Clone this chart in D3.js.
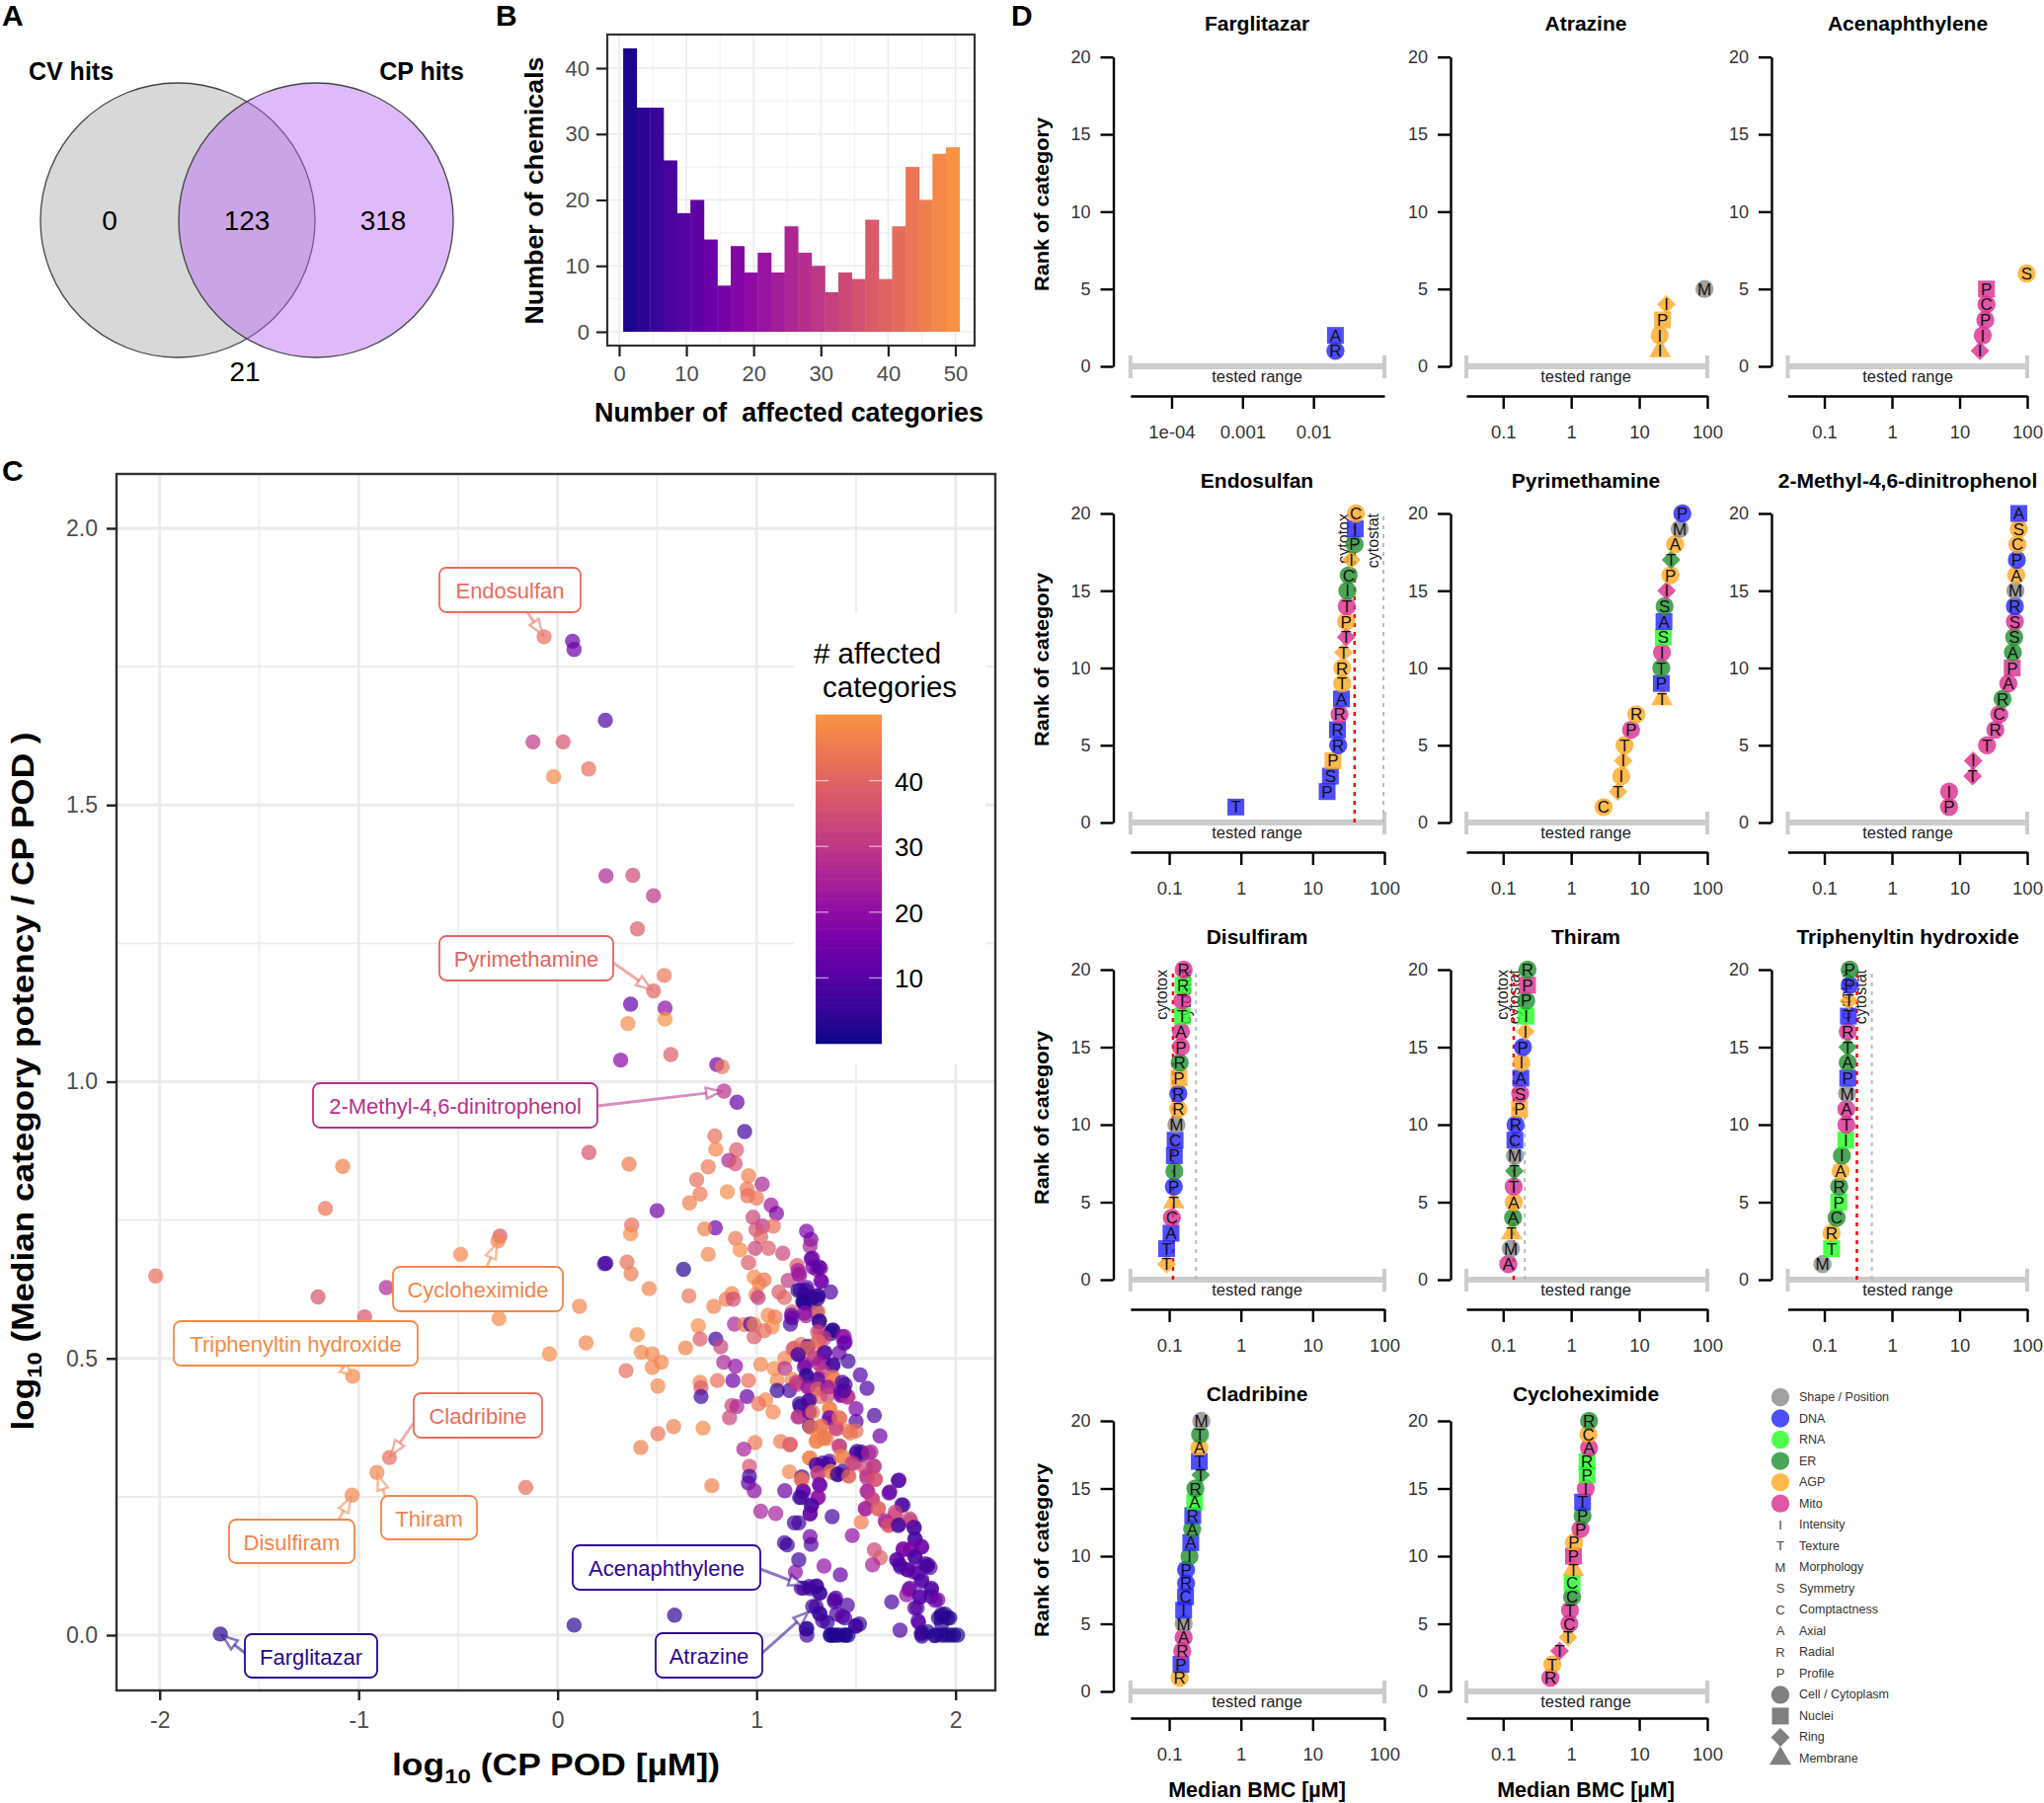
<!DOCTYPE html>
<html>
<head>
<meta charset="utf-8">
<script src="https://cdn.jsdelivr.net/npm/d3@7"></script>
<style>
body { margin: 0; background: #fff; }
text { font-family: "Liberation Sans", Arial, sans-serif; }
</style>
</head>
<body>
<div id="idMyCanvas"></div>
<script>
// panel A
let venn_counts = [0, 123, 318, 21];
let venn_labels = ["CV hits", "CP hits"];

// panel B
let hist_counts = [43, 34, 34, 26, 18, 20, 14, 7, 13, 9, 12, 9, 16, 12, 10, 6, 9, 8, 17, 8, 16, 25, 20, 27, 28];
let hist_ticks_x = [0, 10, 20, 30, 40, 50];
let hist_ticks_y = [0, 10, 20, 30, 40];

// panel C: log10 CP POD, log10 ratio, number of affected categories
let chem_points = [
  [-0.068,1.804,42],[0.075,1.796,12],[0.083,1.781,14],[0.24,1.653,8],[-0.124,1.614,30],[0.028,1.614,36],
  [0.156,1.565,42],[-0.02,1.551,48],[0.243,1.372,26],[0.378,1.373,34],[0.482,1.336,29],[0.401,1.276,38],
  [0.482,1.164,40],[0.536,1.192,44],[0.367,1.14,12],[0.54,1.133,20],[0.353,1.105,48],[0.54,1.113,49],
  [0.317,1.039,18],[0.569,1.049,38],[0.8,1.031,15],[0.827,1.027,44],[0.836,0.983,28],[0.157,0.872,36],
  [-1.08,0.847,46],[-1.167,0.771,43],[-0.29,0.721,37],[-0.3,0.712,47],[-0.487,0.688,47],[0.236,0.671,8],
  [-2.02,0.649,42],[-0.861,0.628,26],[-1.204,0.611,36],[0.11,0.594,47],[-0.97,0.575,36],[-0.295,0.572,48],
  [0.143,0.528,47],[-0.041,0.508,48],[-1.03,0.468,48],[-0.845,0.321,42],[-0.908,0.294,47],[-1.033,0.253,47],
  [-0.16,0.267,42],[-1.695,0.002,3],[0.083,0.018,4],
  [0.902,0.963,12],[0.94,0.91,6],[0.79,0.902,42],[0.795,0.878,47],[0.899,0.877,38],[0.86,0.858,26],
  [0.893,0.852,36],[0.359,0.851,45],[0.757,0.846,44],[0.96,0.83,46],[0.699,0.823,42],[1.028,0.815,25],
  [0.952,0.806,44],[0.955,0.794,42],[1.0,0.79,44],[0.716,0.797,44],[0.853,0.801,48],[0.663,0.781,46],
  [1.073,0.777,22],[1.1,0.762,16],[0.5,0.767,15],[0.982,0.755,33],[1.031,0.739,28],[1.084,0.739,42],
  [0.997,0.733,36],[0.793,0.736,14],[0.739,0.734,46],[0.372,0.741,42],[0.367,0.725,48],[1.251,0.73,16],
  [1.273,0.715,14],[1.269,0.703,24],[1.021,0.72,40],[0.894,0.717,44],[0.917,0.696,48],[0.993,0.699,33],
  [1.06,0.699,38],[1.132,0.69,33],[0.757,0.688,47],[1.281,0.681,14],[0.959,0.673,38],[0.349,0.674,42],
  [0.243,0.672,7],[0.369,0.653,45],[0.633,0.661,3],[1.203,0.668,38],[1.212,0.653,24],[1.302,0.661,20],
  [1.322,0.663,18],[0.988,0.647,48],[1.038,0.642,44],[1.013,0.635,46],[1.159,0.641,30],[1.327,0.639,16],
  [0.46,0.626,47],[1.372,0.62,8],[1.22,0.623,6],[1.253,0.628,14],[1.112,0.62,38],[1.14,0.61,40],
  [0.66,0.613,44],[0.876,0.617,47],[0.848,0.607,45],[0.883,0.607,34],[0.997,0.615,46],[1.008,0.61,30],
  [0.785,0.594,46],[1.236,0.602,4],[1.31,0.613,6],[1.269,0.599,6],[1.302,0.584,10],[1.248,0.577,22],
  [1.179,0.584,38],[1.058,0.578,48],[1.093,0.575,44],[1.31,0.585,46],[1.179,0.573,14],[1.17,0.562,6],
  [0.889,0.562,26],[0.939,0.561,46],[0.969,0.562,10],[0.988,0.561,46],[0.707,0.559,48],[1.079,0.557,48],
  [1.316,0.568,6],[1.038,0.55,42],[0.4,0.543,48],[0.988,0.539,38],[1.319,0.551,36],[1.385,0.551,5],
  [1.44,0.54,18],[1.446,0.53,14],[0.795,0.535,6],[0.716,0.535,38],[1.32,0.537,36],[0.643,0.519,46],
  [0.82,0.521,33],[0.421,0.511,47],[0.476,0.508,47],[0.521,0.493,47],[0.476,0.484,47],[0.344,0.478,42],
  [1.19,0.519,42],[1.253,0.52,40],[1.302,0.526,46],[1.344,0.511,8],[1.212,0.508,10],[1.286,0.5,38],
  [1.415,0.51,12],[1.46,0.495,6],[0.835,0.493,26],[0.894,0.486,20],[1.021,0.489,47],[1.142,0.5,47],
  [1.088,0.482,48],[1.142,0.482,28],[1.245,0.489,18],[1.336,0.493,24],[1.385,0.489,8],[1.521,0.47,10],
  [1.555,0.446,8],[0.881,0.46,14],[0.803,0.46,42],[0.959,0.46,42],[0.716,0.457,47],[0.504,0.45,47],
  [0.721,0.447,38],[0.721,0.431,6],[1.104,0.46,47],[1.179,0.462,47],[1.253,0.468,8],[1.319,0.465,30],
  [1.385,0.464,47],[1.104,0.442,4],[1.165,0.442,6],[1.203,0.453,28],[1.261,0.449,24],[1.319,0.449,38],
  [1.369,0.449,36],[1.445,0.453,6],[1.426,0.435,16],[1.46,0.431,28],[0.952,0.431,12],[1.046,0.425,47],
  [1.01,0.418,44],[1.083,0.403,47],[0.876,0.415,33],[0.901,0.413,26],[0.864,0.393,33],[1.22,0.413,4],
  [1.261,0.424,10],[1.261,0.402,18],[1.212,0.395,30],[1.319,0.431,42],[1.369,0.408,46],[1.5,0.409,16],
  [1.5,0.386,10],[1.592,0.397,8],[1.62,0.36,14],[1.369,0.391,10],[1.419,0.391,44],[1.402,0.373,33],
  [1.269,0.377,47],[1.324,0.377,46],[1.461,0.369,44],[1.5,0.369,42],[1.302,0.351,47],[1.352,0.355,46],
  [0.583,0.377,46],[0.504,0.364,44],[0.731,0.374,48],[0.418,0.339,46],[0.992,0.348,45],[1.121,0.35,45],
  [1.17,0.345,36],[0.936,0.336,24],[1.418,0.342,35],[1.575,0.331,25],[1.526,0.331,6],[1.5,0.328,10],
  [1.269,0.32,46],[1.435,0.322,46],[1.302,0.307,8],[1.36,0.309,10],[1.493,0.311,38],[1.592,0.305,28],
  [0.964,0.305,36],[0.964,0.287,6],[0.959,0.275,10],[0.988,0.261,20],[1.165,0.295,47],[1.228,0.286,8],
  [1.228,0.28,44],[1.31,0.291,30],[1.377,0.294,47],[1.41,0.291,4],[1.46,0.289,44],[1.553,0.289,36],
  [1.597,0.282,36],[1.716,0.28,12],[1.67,0.259,14],[1.559,0.26,28],[0.775,0.27,46],[1.142,0.261,14],
  [1.319,0.271,12],[1.236,0.26,14],[1.225,0.249,6],[1.311,0.249,20],[1.583,0.245,30],[1.613,0.229,40],
  [1.547,0.229,24],[1.736,0.235,8],[1.278,0.235,10],[1.269,0.22,10],[1.021,0.224,24],[1.096,0.22,24],
  [1.38,0.214,6],[1.19,0.203,8],[1.212,0.203,6],[1.526,0.204,45],[1.65,0.204,30],[1.666,0.2,40],
  [1.7,0.218,36],[1.774,0.207,32],[1.716,0.2,8],[1.793,0.194,8],[1.481,0.18,20],[1.798,0.173,8],
  [1.831,0.16,14],[1.269,0.178,14],[1.274,0.164,10],[1.14,0.167,7],[1.154,0.163,5],[1.592,0.154,33],
  [1.622,0.14,38],[1.583,0.127,24],[1.736,0.154,20],[1.774,0.154,18],[1.707,0.136,18],[1.798,0.14,10],
  [1.847,0.129,10],[1.872,0.122,10],[1.212,0.136,5],[1.195,0.114,20],[1.339,0.125,20],[1.421,0.109,12],
  [1.724,0.123,8],[1.757,0.118,12],[1.79,0.114,14],[1.831,0.1,12],[1.88,0.082,12],[1.765,0.082,18],
  [1.822,0.068,10],[1.897,0.063,15],[1.807,0.049,10],[1.679,0.06,8],[1.815,0.023,8],[1.721,0.009,8],
  [1.831,0.005,5],[1.831,-0.002,5],[1.914,0.031,3],[1.93,0.038,3],[1.947,0.038,3],[1.971,0.031,3],
  [1.93,0.02,3],[1.9,0.0,2],[1.93,0.0,2],[1.95,0.0,2],[1.97,0.0,2],[1.99,0.0,2],[2.01,0.0,2],
  [0.588,0.036,4],[1.236,0.085,5],[1.302,0.089,5],[1.319,0.076,5],[1.269,0.084,5],[1.299,0.052,6],
  [1.319,0.038,5],[1.355,0.023,4],[1.398,0.067,8],[1.393,0.06,8],[1.456,0.054,8],[1.402,0.038,8],
  [1.443,0.031,8],[1.5,0.016,5],[1.517,0.02,5],[1.253,0.012,4],[1.253,0.0,6],[1.37,0.0,2],[1.385,0.0,2],
  [1.4,0.0,2],[1.44,0.0,2],[1.46,0.0,2],[1.24,0.615,3],[1.28,0.61,4],[1.381,0.551,3],
  // second pass over the dense part
  [1.274,0.68,12],[1.282,0.665,14],[1.315,0.665,10],[1.208,0.659,24],[1.216,0.65,22],[1.323,0.64,14],
  [1.208,0.623,5],[1.249,0.623,5],[1.307,0.614,6],[1.232,0.603,3],[1.24,0.6,3],[1.307,0.608,4],
  [1.241,0.582,20],[1.175,0.578,12],[1.315,0.566,4],[1.307,0.548,33],[1.373,0.545,3],[1.431,0.539,20],
  [1.44,0.527,12],[1.34,0.537,30],[1.224,0.525,42],[1.257,0.522,8],[1.307,0.531,42],[1.183,0.517,38],
  [1.25,0.518,42],[1.208,0.507,6],[1.29,0.501,30],[1.34,0.51,10],[1.24,0.484,14],[1.314,0.491,22],
  [1.382,0.487,6],[1.332,0.477,30],[1.249,0.469,3],[1.307,0.462,8],[1.382,0.466,44],[1.431,0.457,6],
  [1.2,0.457,30],[1.257,0.448,22],[1.307,0.445,40],[1.357,0.448,20],[1.357,0.433,33],[1.423,0.439,8],
  [1.423,0.433,18],[1.456,0.43,28],[1.44,0.442,8],[1.216,0.418,4],[1.208,0.394,28],[1.266,0.424,8],
  [1.266,0.403,14],[1.282,0.403,44],[1.365,0.41,47],[1.365,0.393,14],[1.266,0.378,6],[1.27,0.376,44],
  [1.324,0.378,44],[1.398,0.374,33],[1.307,0.358,47],[1.34,0.358,44],[1.415,0.393,42],
  [1.166,0.344,40],[1.299,0.35,47],[1.34,0.356,46],[1.414,0.341,30],[1.472,0.365,44],[1.265,0.32,47],
  [1.299,0.308,6],[1.332,0.311,8],[1.365,0.314,6],[1.423,0.323,47],[1.505,0.332,6],[1.53,0.326,6],
  [1.563,0.329,25],[1.373,0.296,47],[1.406,0.29,4],[1.431,0.296,6],[1.464,0.287,40],[1.481,0.311,30],
  [1.547,0.302,33],[1.588,0.305,30],[1.555,0.284,28],[1.596,0.281,36],[1.307,0.293,33],[1.224,0.281,42],
  [1.232,0.26,12],[1.216,0.249,6],[1.315,0.272,14],[1.307,0.249,20],[1.274,0.234,6],[1.269,0.219,12],
  [1.712,0.279,8],[1.666,0.257,12],[1.555,0.26,24],[1.58,0.246,33],[1.547,0.228,24],[1.61,0.228,40],
  [1.729,0.235,8],[1.696,0.222,33],[1.77,0.21,33],[1.646,0.207,24],[1.663,0.198,36],[1.712,0.198,6],
  [1.79,0.195,8],[1.795,0.174,8],[1.737,0.156,14],[1.778,0.156,18],[1.828,0.159,14],[1.704,0.136,10],
  [1.795,0.142,8],[1.72,0.127,8],[1.762,0.118,10],[1.853,0.124,5],[1.811,0.112,10],[1.861,0.127,8],
  [1.828,0.097,8],[1.77,0.085,12],[1.754,0.073,20],[1.878,0.085,8],[1.82,0.07,10],[1.878,0.07,8],
  [1.911,0.064,14],[1.795,0.049,10],[1.811,0.026,10],[1.927,0.034,3],[1.96,0.031,3],[1.828,0.002,5],
  [1.86,0.006,3],[1.894,-0.001,3],[1.332,0.026,6],[1.315,0.04,6],[1.282,0.052,5],[1.39,0.064,10],
  [1.431,0.034,10],[1.497,0.017,6],[1.249,0.011,4],[1.373,0.0,2],[1.447,0.0,2],[1.414,0.0,2],
  [1.299,0.088,6],[1.265,0.088,6],[1.224,0.085,8],[1.315,0.076,5]
];
let label_names = ["Endosulfan", "Pyrimethamine", "2-Methyl-4,6-dinitrophenol", "Cycloheximide", "Triphenyltin hydroxide", "Cladribine", "Thiram", "Disulfiram", "Farglitazar", "Acenaphthylene", "Atrazine"];
let label_pod = [-0.068, 0.482, 0.836, -0.3, -1.03, -0.845, -0.908, -1.033, -1.695, 1.25, 1.27];
let label_ratio = [1.804, 1.164, 0.983, 0.712, 0.468, 0.321, 0.294, 0.253, 0.002, 0.088, 0.045];
let label_n = [42, 40, 28, 47, 48, 42, 47, 47, 3, 4, 4];
let scatter_ticks_x = [-2, -1, 0, 1, 2];
let scatter_ticks_y = [0, 0.5, 1, 1.5, 2];
let legend_ticks = [10, 20, 30, 40];

// panel D: median BMC, feature letter, compartment, region. rank is the row number
let rank_farglitazar = [[0.0204,"R","DNA","c"],[0.0204,"A","DNA","n"]];
let rank_atrazine = [[20.2,"I","AGP","m"],[20,"I","AGP","c"],[22,"P","AGP","n"],[25,"I","AGP","r"],[91,"M","Shape","c"]];
let rank_acenaphthylene = [[20,"I","Mito","r"],[22,"I","Mito","c"],[24,"P","Mito","c"],[25,"C","Mito","c"],[25,"P","Mito","n"],[98,"S","AGP","c"]];
let rank_endosulfan = [[0.85,"T","DNA","n"],[15.9,"P","DNA","n"],[17.7,"S","DNA","n"],[19.2,"P","AGP","n"],[22.7,"R","DNA","c"],[22.2,"R","DNA","n"],[23.7,"R","Mito","c"],[25.2,"A","DNA","n"],[25.8,"T","AGP","c"],[25.8,"R","AGP","c"],[26.9,"T","AGP","r"],[29.3,"T","Mito","r"],[29.3,"P","AGP","c"],[29.9,"T","Mito","c"],[30.5,"I","ER","c"],[31.8,"C","ER","c"],[34.6,"I","AGP","r"],[38.4,"P","ER","c"],[39.2,"I","DNA","n"],[40.1,"C","AGP","c"]];
let rank_pyrimethamine = [[2.99,"C","AGP","c"],[4.87,"T","AGP","r"],[5.45,"I","AGP","c"],[5.82,"I","AGP","r"],[6.08,"T","AGP","c"],[7.59,"P","Mito","c"],[9.07,"R","AGP","c"],[21.6,"T","AGP","m"],[21.1,"P","DNA","n"],[21.1,"T","ER","c"],[21.6,"I","Mito","c"],[22.6,"S","RNA","n"],[23.1,"A","DNA","n"],[23.6,"S","ER","c"],[25.2,"I","Mito","r"],[28.8,"P","AGP","c"],[29.4,"T","ER","r"],[33.7,"A","AGP","c"],[39.3,"M","Shape","c"],[43,"P","DNA","c"]];
let rank_methyl = [[7,"P","Mito","c"],[7,"I","Mito","c"],[15.6,"T","Mito","r"],[15.9,"I","Mito","r"],[25.4,"T","Mito","c"],[33.8,"R","Mito","c"],[38.6,"C","Mito","c"],[43.2,"R","ER","c"],[52.6,"A","Mito","c"],[60,"P","Mito","n"],[61.4,"A","ER","c"],[64.2,"S","ER","c"],[65.7,"S","Mito","c"],[65.7,"R","DNA","c"],[67,"M","Shape","c"],[68.7,"A","AGP","c"],[70.2,"P","DNA","c"],[71.8,"C","AGP","c"],[75,"S","AGP","c"],[75,"A","DNA","n"]];
let rank_disulfiram = [[0.092,"T","AGP","r"],[0.092,"T","DNA","n"],[0.106,"A","DNA","n"],[0.109,"C","Mito","c"],[0.116,"T","AGP","m"],[0.116,"P","DNA","c"],[0.118,"I","ER","c"],[0.118,"P","DNA","n"],[0.121,"C","DNA","n"],[0.126,"M","Shape","c"],[0.134,"R","AGP","c"],[0.134,"R","DNA","c"],[0.137,"P","AGP","n"],[0.14,"R","ER","c"],[0.146,"P","Mito","c"],[0.146,"A","Mito","c"],[0.152,"T","RNA","n"],[0.152,"T","Mito","c"],[0.156,"R","RNA","n"],[0.159,"R","Mito","c"]];
let rank_thiram = [[0.119,"A","Mito","c"],[0.13,"M","Shape","c"],[0.133,"T","AGP","m"],[0.14,"A","ER","c"],[0.143,"A","AGP","c"],[0.143,"T","Mito","c"],[0.146,"T","ER","r"],[0.149,"M","Shape","c"],[0.149,"C","DNA","n"],[0.152,"R","DNA","c"],[0.174,"P","AGP","n"],[0.178,"S","Mito","c"],[0.182,"A","DNA","n"],[0.186,"I","AGP","c"],[0.195,"P","DNA","c"],[0.213,"I","AGP","r"],[0.218,"I","RNA","n"],[0.218,"P","ER","c"],[0.228,"P","Mito","n"],[0.228,"R","ER","c"]];
let rank_triphenyltin = [[0.094,"M","Shape","c"],[0.128,"T","RNA","n"],[0.128,"R","AGP","c"],[0.152,"C","ER","c"],[0.163,"P","RNA","n"],[0.166,"R","ER","c"],[0.174,"A","AGP","c"],[0.182,"I","ER","c"],[0.208,"I","RNA","n"],[0.212,"T","Mito","c"],[0.212,"A","Mito","c"],[0.217,"M","Shape","c"],[0.222,"P","DNA","n"],[0.222,"A","ER","c"],[0.222,"T","ER","r"],[0.222,"R","Mito","c"],[0.227,"T","DNA","n"],[0.232,"T","AGP","r"],[0.237,"P","DNA","c"],[0.237,"P","ER","c"]];
let rank_cladribine = [[0.14,"R","AGP","c"],[0.146,"P","DNA","n"],[0.152,"R","Mito","c"],[0.159,"A","Mito","c"],[0.159,"M","Shape","c"],[0.159,"I","DNA","n"],[0.169,"C","DNA","n"],[0.172,"R","DNA","c"],[0.172,"P","DNA","c"],[0.192,"I","ER","c"],[0.2,"A","DNA","n"],[0.209,"A","ER","c"],[0.213,"R","DNA","n"],[0.227,"A","RNA","n"],[0.232,"R","ER","c"],[0.275,"T","ER","r"],[0.263,"T","DNA","n"],[0.263,"A","AGP","c"],[0.269,"T","ER","c"],[0.28,"M","Shape","c"]];
let rank_cycloheximide = [[0.494,"R","Mito","c"],[0.528,"T","AGP","c"],[0.675,"T","Mito","r"],[0.9,"T","AGP","r"],[0.94,"C","Mito","c"],[0.96,"T","Mito","c"],[1.03,"C","ER","c"],[1.03,"C","RNA","n"],[1.08,"T","AGP","m"],[1.08,"P","Mito","n"],[1.1,"P","AGP","c"],[1.37,"P","Mito","c"],[1.47,"P","ER","c"],[1.47,"T","DNA","n"],[1.64,"I","Mito","c"],[1.71,"P","RNA","n"],[1.71,"R","RNA","n"],[1.83,"A","Mito","c"],[1.79,"C","AGP","c"],[1.83,"R","ER","c"]];

let panel_titles = ["Farglitazar", "Atrazine", "Acenaphthylene", "Endosulfan", "Pyrimethamine", "2-Methyl-4,6-dinitrophenol", "Disulfiram", "Thiram", "Triphenyltin hydroxide", "Cladribine", "Cycloheximide"];
let panel_ranks = [rank_farglitazar, rank_atrazine, rank_acenaphthylene, rank_endosulfan, rank_pyrimethamine, rank_methyl, rank_disulfiram, rank_thiram, rank_triphenyltin, rank_cladribine, rank_cycloheximide];
let panel_cytotox = [null, null, null, 38.4, null, null, 0.113, 0.143, 0.303, null, null];
let panel_cytostat = [null, null, null, 97, null, null, 0.237, 0.208, 0.504, null, null];
let rank_ticks = [0, 5, 10, 15, 20];
let bmc_ticks = [0.1, 1, 10, 100];
let bmc_ticks_low = [0.0001, 0.001, 0.01];

let compartment_names = ["Shape", "DNA", "RNA", "ER", "AGP", "Mito"];
let compartment_colors = ["#8a8a8a", "#2222ff", "#22ff22", "#1f9030", "#ffa820", "#d92c8e"];
let legend_compartments = ["Shape / Position", "DNA", "RNA", "ER", "AGP", "Mito"];
let legend_letters = ["I", "T", "M", "S", "C", "A", "R", "P"];
let legend_features = ["Intensity", "Texture", "Morphology", "Symmetry", "Comptactness", "Axial", "Radial", "Profile"];
let legend_regions = ["Cell / Cytoplasm", "Nuclei", "Ring", "Membrane"];
let region_codes = ["c", "n", "r", "m"];

// layout
let canvas_w = 2070;
let canvas_h = 1826;
let font_sans = "'Liberation Sans', Arial, sans-serif";
let tick_grey = "#4d4d4d";

let svg_obj = d3.select("#idMyCanvas")
                .append("svg")
                  .attr("width", canvas_w)
                  .attr("height", canvas_h)
                  .attr("viewBox", [0, 0, canvas_w, canvas_h].join(" "))
                  .attr("xmlns", "http://www.w3.org/2000/svg");

svg_obj.append("rect").attr("width", canvas_w).attr("height", canvas_h).attr("fill", "white");

// plasma, cut off at orange as in the original colourbar
let color_n = d3.scaleSequential(t => d3.interpolatePlasma(t * 0.75)).domain([0, 50]);

function add_text(parent, x, y, str, size, opts) {
  opts = opts || {};
  let t = parent.append("text")
    .attr("x", x).attr("y", y)
    .attr("font-size", size + "px")
    .attr("text-anchor", opts.anchor || "middle")
    .attr("dominant-baseline", opts.baseline || "central")
    .attr("fill", opts.fill || "black")
    .attr("font-weight", opts.bold ? "bold" : "normal")
    .text(str);
  if (opts.length) t.attr("textLength", opts.length).attr("lengthAdjust", "spacingAndGlyphs");
  if (opts.rotate) t.attr("transform", "rotate(-90 " + x + " " + y + ")");
  return t;
}

// panel letters
[["A", 2, 26], ["B", 502, 26], ["C", 2, 487], ["D", 1024, 26]].forEach(d => {
  add_text(svg_obj, d[1], d[2], d[0], 30, {anchor: "start", baseline: "auto", bold: true});
});

// ---- A: venn
let g_venn = svg_obj.append("g");
let venn_r = 139;
g_venn.append("circle").attr("cx", 180).attr("cy", 223).attr("r", venn_r)
  .attr("fill", "#d8d8d8").attr("stroke", "#444").attr("stroke-width", 1.3);
g_venn.append("circle").attr("cx", 320).attr("cy", 223).attr("r", venn_r)
  .attr("fill", "rgb(185,105,245)").attr("fill-opacity", 0.46).attr("stroke", "#444").attr("stroke-width", 1.3);
add_text(g_venn, 72, 72, venn_labels[0], 25, {bold: true});
add_text(g_venn, 427, 72, venn_labels[1], 25, {bold: true});
add_text(g_venn, 111, 223, venn_counts[0], 28);
add_text(g_venn, 250, 223, venn_counts[1], 28);
add_text(g_venn, 388, 223, venn_counts[2], 28);
add_text(g_venn, 248, 376, venn_counts[3], 28);

// ---- B: histogram
let g_hist = svg_obj.append("g");
let xb = d3.scaleLinear().domain([0, 50]).range([627, 967.5]);
let yb = d3.scaleLinear().domain([0, 40]).range([336, 69]);
let bin_w = 2;
let bin_x0 = 0.6;

function grid_lines(g, xs, ys, x_range, y_range, width) {
  g.selectAll(null).data(xs).enter().append("line")
    .attr("x1", d => d.px).attr("x2", d => d.px).attr("y1", y_range[0]).attr("y2", y_range[1])
    .attr("stroke", "#ebebeb").attr("stroke-width", width);
  g.selectAll(null).data(ys).enter().append("line")
    .attr("y1", d => d.px).attr("y2", d => d.px).attr("x1", x_range[0]).attr("x2", x_range[1])
    .attr("stroke", "#ebebeb").attr("stroke-width", width);
}
grid_lines(g_hist, d3.range(5, 50, 10).map(v => ({px: xb(v)})), d3.range(5, 45, 10).map(v => ({px: yb(v)})), [615, 987], [35, 350], 0.8);
grid_lines(g_hist, hist_ticks_x.map(v => ({px: xb(v)})), hist_ticks_y.map(v => ({px: yb(v)})), [615, 987], [35, 350], 1.5);

g_hist.selectAll("rect.bar").data(hist_counts).enter().append("rect")
  .attr("class", "bar")
  .attr("x", (d, i) => xb(bin_x0 + i * bin_w))
  .attr("y", d => yb(d))
  .attr("width", xb(bin_w) - xb(0) + 0.4)
  .attr("height", d => yb(0) - yb(d))
  .attr("fill", (d, i) => color_n(bin_x0 + i * bin_w + bin_w / 2));

g_hist.append("rect").attr("x", 615).attr("y", 35).attr("width", 372).attr("height", 315)
  .attr("fill", "none").attr("stroke", "#333").attr("stroke-width", 2.2);

function style_axis(g, size, color, line_w) {
  g.selectAll("text").attr("font-size", size + "px").attr("fill", color).attr("font-family", font_sans);
  g.selectAll("line").attr("stroke", "#222").attr("stroke-width", line_w);
  g.selectAll("path.domain").attr("stroke", "#222").attr("stroke-width", line_w);
}

let ax_b_x = g_hist.append("g").attr("transform", "translate(0,350)")
  .call(d3.axisBottom(xb).tickValues(hist_ticks_x).tickSize(11).tickSizeOuter(0).tickPadding(9));
ax_b_x.select("path.domain").remove();
style_axis(ax_b_x, 22, tick_grey, 2.2);
let ax_b_y = g_hist.append("g").attr("transform", "translate(615,0)")
  .call(d3.axisLeft(yb).tickValues(hist_ticks_y).tickSize(11).tickSizeOuter(0).tickPadding(7));
ax_b_y.select("path.domain").remove();
style_axis(ax_b_y, 22, tick_grey, 2.2);

add_text(g_hist, 799, 418, "Number of  affected categories", 27, {bold: true, length: 394}).style("white-space", "pre");
add_text(g_hist, 541, 193, "Number of chemicals", 26, {bold: true, length: 271, rotate: true});

// ---- C: scatter
let g_sc = svg_obj.append("g");
let box_c = {x0: 118, x1: 1008, y0: 480, y1: 1712};
let xc = d3.scaleLinear().domain([-2, 2]).range([161.7, 967.7]);
let yc = d3.scaleLinear().domain([0, 2]).range([1656, 535]);

grid_lines(g_sc, d3.range(-1.5, 2, 1).map(v => ({px: xc(v)})), d3.range(0.25, 2, 0.5).map(v => ({px: yc(v)})), [box_c.x0, box_c.x1], [box_c.y0, box_c.y1], 1.6);
grid_lines(g_sc, scatter_ticks_x.map(v => ({px: xc(v)})), scatter_ticks_y.map(v => ({px: yc(v)})), [box_c.x0, box_c.x1], [box_c.y0, box_c.y1], 2.8);

// colourbar sits on a white patch that cuts the grid
g_sc.append("rect").attr("x", 804).attr("y", 621).attr("width", 194).attr("height", 457).attr("fill", "white");

g_sc.selectAll("circle.pt").data(chem_points).enter().append("circle")
  .attr("class", "pt")
  .attr("cx", d => xc(d[0]))
  .attr("cy", d => yc(d[1]))
  .attr("r", 7.7)
  .attr("fill", d => color_n(d[2]))
  .attr("fill-opacity", 0.7);

g_sc.append("rect").attr("x", box_c.x0).attr("y", box_c.y0)
  .attr("width", box_c.x1 - box_c.x0).attr("height", box_c.y1 - box_c.y0)
  .attr("fill", "none").attr("stroke", "#333").attr("stroke-width", 2.4);

let ax_c_x = g_sc.append("g").attr("transform", "translate(0," + box_c.y1 + ")")
  .call(d3.axisBottom(xc).tickValues(scatter_ticks_x).tickFormat(d3.format("d")).tickSize(10).tickPadding(12));
ax_c_x.select("path.domain").remove();
style_axis(ax_c_x, 23, tick_grey, 2.4);
ax_c_x.selectAll("text").text(d => String(d));
let ax_c_y = g_sc.append("g").attr("transform", "translate(" + box_c.x0 + ",0)")
  .call(d3.axisLeft(yc).tickValues(scatter_ticks_y).tickFormat(d3.format(".1f")).tickSize(10).tickPadding(9));
ax_c_y.select("path.domain").remove();
style_axis(ax_c_y, 23, tick_grey, 2.4);

function log_title(parent, x, y, before, after, size, length, rotate) {
  let t = parent.append("text").attr("x", x).attr("y", y)
    .attr("text-anchor", "middle").attr("font-size", size + "px").attr("font-weight", "bold")
    .attr("textLength", length).attr("lengthAdjust", "spacingAndGlyphs");
  if (rotate) t.attr("transform", "rotate(-90 " + x + " " + y + ")");
  t.append("tspan").text("log");
  t.append("tspan").attr("dy", size * 0.25).attr("font-size", size * 0.68 + "px").text("10");
  t.append("tspan").attr("dy", -size * 0.25).text(before + after);
}
log_title(g_sc, 563, 1798, " (CP POD [µM])", "", 31, 332, false);
log_title(g_sc, 34, 1095, " (Median category potency / CP POD )", "", 31, 707, true);

// colourbar, one strip per category count
let yl = d3.scaleLinear().domain([0, 50]).range([1057, 724]);
let bar_x = 826;
let bar_w = 67;
let bar_steps = d3.range(0, 50, 0.5);
g_sc.selectAll("rect.strip").data(bar_steps).enter().append("rect")
  .attr("class", "strip")
  .attr("x", bar_x).attr("width", bar_w)
  .attr("y", d => yl(d + 0.5) - 0.3)
  .attr("height", d => yl(d) - yl(d + 0.5) + 0.6)
  .attr("fill", d => color_n(d));
legend_ticks.forEach(v => {
  g_sc.append("line").attr("x1", bar_x).attr("x2", bar_x + 13).attr("y1", yl(v)).attr("y2", yl(v)).attr("stroke", "white").attr("stroke-opacity", 0.6).attr("stroke-width", 1.3);
  g_sc.append("line").attr("x1", bar_x + bar_w - 13).attr("x2", bar_x + bar_w).attr("y1", yl(v)).attr("y2", yl(v)).attr("stroke", "white").attr("stroke-opacity", 0.6).attr("stroke-width", 1.3);
  add_text(g_sc, 906, yl(v) + 1, v, 26, {anchor: "start"});
});
add_text(g_sc, 824, 661, "# affected", 29.5, {anchor: "start"});
add_text(g_sc, 833, 695, "categories", 29.5, {anchor: "start"});

// callouts: box corners in page pixels, arrow starts on the box edge
let label_boxes = [
  [445, 575, 143, 45, 534, 620], [445, 948, 176, 45, 621, 975], [317, 1097, 288, 45, 605, 1120],
  [398, 1283, 172, 45, 493, 1283], [176, 1338, 247, 45, 345, 1383], [419, 1411, 130, 45, 419, 1441],
  [386, 1515, 97, 44, 390, 1515], [232, 1539, 127, 44, 343, 1539], [248, 1655, 134, 44, 248, 1674],
  [580, 1565, 190, 45, 770, 1589], [664, 1654, 108, 45, 772, 1674]
];
label_names.forEach((name, i) => {
  let c = d3.rgb(color_n(label_n[i])).formatHex();
  let b = label_boxes[i];
  let tx = xc(label_pod[i]);
  let ty = yc(label_ratio[i]);
  let sx = b[4];
  let sy = b[5];
  let ang = Math.atan2(ty - sy, tx - sx);
  let len = Math.hypot(tx - sx, ty - sy);
  let head = Math.min(15, len * 0.6);
  let tip = 3;
  let ex = sx + Math.cos(ang) * (len - tip);
  let ey = sy + Math.sin(ang) * (len - tip);
  let bx = ex - Math.cos(ang) * head;
  let by = ey - Math.sin(ang) * head;
  let nx = -Math.sin(ang) * 5.5;
  let ny = Math.cos(ang) * 5.5;
  g_sc.append("line").attr("x1", sx).attr("y1", sy).attr("x2", bx).attr("y2", by)
    .attr("stroke", c).attr("stroke-opacity", 0.55).attr("stroke-width", 3);
  g_sc.append("path")
    .attr("d", d3.line()([[ex, ey], [bx + nx, by + ny], [bx - nx, by - ny]]) + "Z")
    .attr("fill", "white").attr("fill-opacity", 0.6)
    .attr("stroke", c).attr("stroke-opacity", 0.55).attr("stroke-width", 2.5);
  g_sc.append("rect").attr("x", b[0]).attr("y", b[1]).attr("width", b[2]).attr("height", b[3])
    .attr("rx", 7).attr("fill", "white").attr("stroke", c).attr("stroke-width", 1.8);
  add_text(g_sc, b[0] + b[2] / 2, b[1] + b[3] / 2 + 1, name, 22, {fill: c});
});

// ---- D: rank panels
let col_x = [
  {axis: 1127.5, left: 1144.8, right: 1402, centre: 1273},
  {axis: 1469, left: 1485, right: 1729, centre: 1606},
  {axis: 1794, left: 1810.5, right: 2053, centre: 1932}
];
let row_y = [
  {top: 57.7, zero: 371, xaxis: 401, title: 23, ylab: 207},
  {top: 520, zero: 833, xaxis: 863, title: 486, ylab: 668},
  {top: 982, zero: 1296, xaxis: 1326, title: 948, ylab: 1132},
  {top: 1439, zero: 1713, xaxis: 1740, title: 1411, ylab: 1570}
];

function draw_marker(g, x, y, region, color, scale) {
  let k = scale || 1;
  let path;
  if (region == "c") path = d3.symbol().type(d3.symbolCircle).size(265 * k * k)();
  if (region == "n") path = d3.symbol().type(d3.symbolSquare).size(290 * k * k)();
  if (region == "r") path = d3.symbol().type(d3.symbolSquare).size(180 * k * k)();
  if (region == "m") path = d3.symbol().type(d3.symbolTriangle).size(210 * k * k)();
  return g.append("path")
    .attr("d", path)
    .attr("transform", "translate(" + x + "," + y + ")" + (region == "r" ? " rotate(45)" : ""))
    .attr("fill", color);
}

panel_titles.forEach((title, i) => {
  let col = col_x[i % 3];
  let row = row_y[Math.floor(i / 3)];
  let g = svg_obj.append("g");
  let log_min = i == 0 ? 0.0000263 : 0.0288;
  let log_max = i == 0 ? 0.1 : 100;
  let x = d3.scaleLog().domain([log_min, log_max]).range([col.left, col.right]);
  let y = d3.scaleLinear().domain([0, 20]).range([row.zero, row.top]);

  add_text(g, col.centre, row.title, title, 21, {bold: true});

  let ax_y = g.append("g").attr("transform", "translate(" + col.axis + ",0)")
    .call(d3.axisLeft(y).tickValues(rank_ticks).tickSize(13).tickSizeOuter(0).tickPadding(10));
  style_axis(ax_y, 18, "#333", 2.4);
  ax_y.selectAll("path.domain,line").attr("stroke", "black");

  let ticks = i == 0 ? bmc_ticks_low : bmc_ticks;
  let ax_x = g.append("g").attr("transform", "translate(0," + row.xaxis + ")")
    .call(d3.axisBottom(x).tickValues(ticks).tickFormat(d => d == 0.0001 ? "1e-04" : String(d)).tickSize(13).tickSizeOuter(0).tickPadding(17));
  style_axis(ax_x, 18.5, "#333", 2.4);
  ax_x.selectAll("path.domain,line").attr("stroke", "black");

  // tested range bar with end caps
  g.append("line").attr("x1", col.left).attr("x2", col.right).attr("y1", row.zero).attr("y2", row.zero)
    .attr("stroke", "#cccccc").attr("stroke-width", 6);
  [col.left, col.right].forEach(cx => {
    g.append("line").attr("x1", cx).attr("x2", cx).attr("y1", row.zero - 11).attr("y2", row.zero + 12)
      .attr("stroke", "#cccccc").attr("stroke-width", 4);
  });
  add_text(g, col.centre, row.zero + 10, "tested range", 16.5, {fill: "#222"});

  if (panel_cytostat[i]) {
    let px = x(panel_cytostat[i]);
    g.append("line").attr("x1", px).attr("x2", px).attr("y1", y(0)).attr("y2", y(20))
      .attr("stroke", "#bbbbbb").attr("stroke-width", 2).attr("stroke-dasharray", "4,5");
    add_text(g, px - 11, y(20), "cytostat", 16, {anchor: "end", fill: "#222", rotate: true});
  }
  if (panel_cytotox[i]) {
    let px = x(panel_cytotox[i]);
    g.append("line").attr("x1", px).attr("x2", px).attr("y1", y(0)).attr("y2", y(20))
      .attr("stroke", "#f00").attr("stroke-width", 2.5).attr("stroke-dasharray", "4,5");
    add_text(g, px - 11, y(20), "cytotox", 16, {anchor: "end", fill: "#222", rotate: true});
  }

  panel_ranks[i].forEach((d, r) => {
    let px = x(d[0]);
    let py = y(r + 1);
    let color = compartment_colors[compartment_names.indexOf(d[2])];
    draw_marker(g, px, py, d[3], color).attr("fill-opacity", 0.8);
  });
  // letters go on top of all the markers
  panel_ranks[i].forEach((d, r) => {
    add_text(g, x(d[0]), y(r + 1) + 0.5, d[1], 17, {fill: "#111"});
  });
});

add_text(svg_obj, col_x[0].centre, 1813, "Median BMC [µM]", 21.5, {bold: true});
add_text(svg_obj, col_x[1].centre, 1813, "Median BMC [µM]", 21.5, {bold: true});
row_y.forEach(r => {
  add_text(svg_obj, 1054, r.ylab, "Rank of category", 21, {bold: true, rotate: true, length: 176});
});

// legend of panel D
let g_leg = svg_obj.append("g");
let leg_rows = d3.scaleLinear().domain([0, 17]).range([1415, 1781]);
legend_compartments.forEach((name, i) => {
  draw_marker(g_leg, 1803, leg_rows(i), "c", compartment_colors[i]).attr("fill-opacity", 0.8);
  add_text(g_leg, 1822, leg_rows(i), name, 12.5, {anchor: "start", fill: "#333"});
});
legend_features.forEach((name, i) => {
  add_text(g_leg, 1803, leg_rows(i + 6), legend_letters[i], 13, {fill: "#444"});
  add_text(g_leg, 1822, leg_rows(i + 6), name, 12.5, {anchor: "start", fill: "#333"});
});
legend_regions.forEach((name, i) => {
  draw_marker(g_leg, 1803, leg_rows(i + 14), region_codes[i], "#808080");
  add_text(g_leg, 1822, leg_rows(i + 14), name, 12.5, {anchor: "start", fill: "#333"});
});
</script>
</body>
</html>
